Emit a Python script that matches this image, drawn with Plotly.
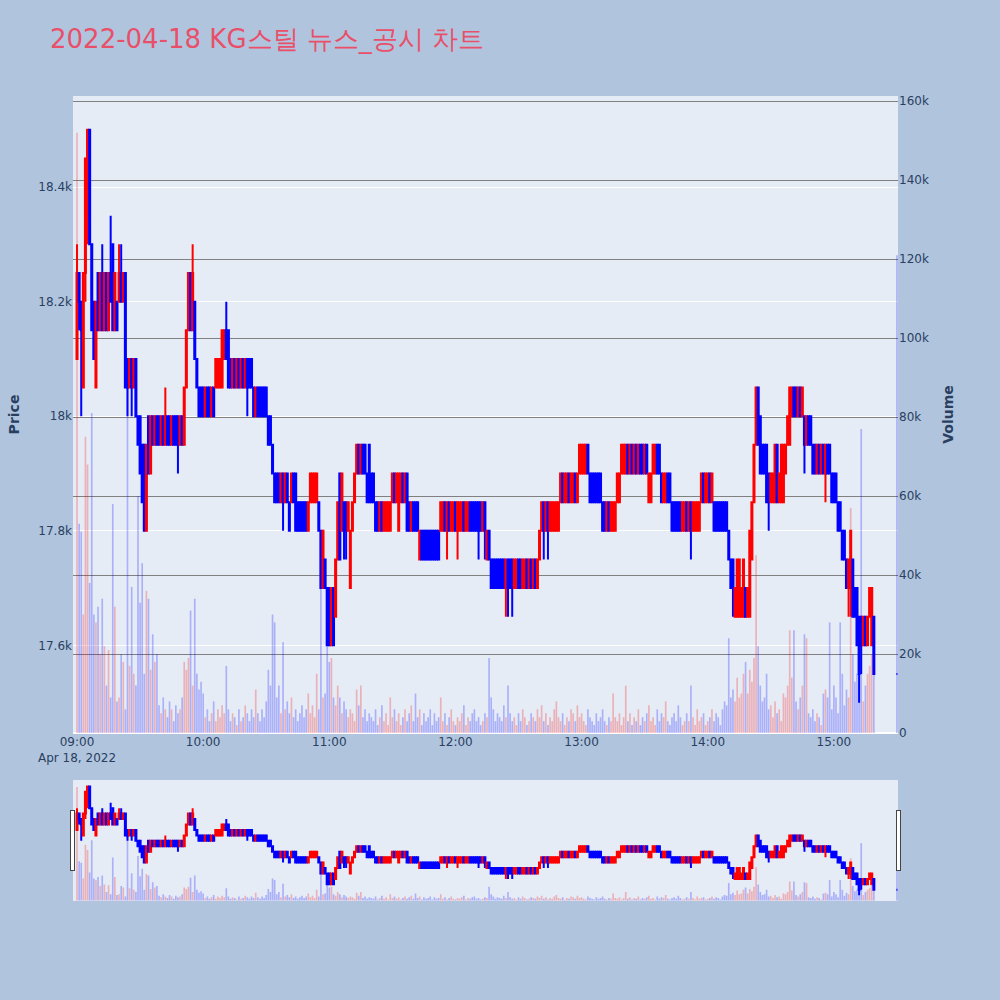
import pandas as pd
import plotly.graph_objects as go
from plotly.subplots import make_subplots

title_text = "2022-04-18 KG스틸 뉴스_공시 차트"

# minute timestamps: 09:00 ... 15:19 continuous trading, plus 15:30 closing auction
times = list(pd.date_range("2022-04-18 09:00", periods=380, freq="min")) + [pd.Timestamp("2022-04-18 15:30")]
x_range = ["2022-04-18 08:58:05", "2022-04-18 15:30:30"]

open_p = [
    18100, 18250, 18200, 18050, 18250, 18350, 18500, 18300, 18200, 18050,
    18250, 18150, 18250, 18150, 18250, 18150, 18250, 18300, 18150, 18200,
    18200, 18250, 18200, 18250, 18100, 18050, 18100, 18050, 18100, 18000,
    18000, 17950, 17950, 17800, 18000, 17900, 18000, 17950, 18000, 18000,
    17950, 18000, 17950, 18000, 18000, 17950, 18000, 18000, 18000, 17950,
    18000, 17950, 18050, 18150, 18250, 18150, 18200, 18100, 18050, 18050,
    18050, 18000, 18050, 18050, 18000, 18050, 18050, 18050, 18050, 18050,
    18100, 18150, 18150, 18100, 18050, 18100, 18050, 18100, 18050, 18100,
    18050, 18100, 18100, 18100, 18050, 18000, 18050, 18050, 18050, 18050,
    18050, 18000, 18000, 17950, 17900, 17900, 17900, 17850, 17900, 17850,
    17900, 17850, 17850, 17900, 17900, 17850, 17850, 17850, 17850, 17850,
    17800, 17850, 17850, 17850, 17850, 17850, 17800, 17700, 17750, 17700,
    17700, 17600, 17700, 17650, 17750, 17900, 17800, 17850, 17850, 17800,
    17700, 17800, 17850, 17900, 17950, 17900, 17950, 17950, 17900, 17950,
    17900, 17900, 17850, 17850, 17800, 17850, 17800, 17800, 17800, 17800,
    17850, 17900, 17850, 17800, 17850, 17900, 17850, 17900, 17850, 17800,
    17850, 17850, 17850, 17750, 17800, 17800, 17800, 17800, 17800, 17800,
    17800, 17800, 17800, 17800, 17800, 17850, 17800, 17850, 17800, 17800,
    17850, 17800, 17800, 17800, 17850, 17800, 17800, 17850, 17850, 17850,
    17850, 17850, 17850, 17800, 17850, 17750, 17800, 17750, 17750, 17750,
    17750, 17750, 17750, 17750, 17700, 17750, 17750, 17750, 17700, 17700,
    17750, 17750, 17700, 17700, 17750, 17700, 17750, 17700, 17750, 17700,
    17750, 17800, 17850, 17800, 17850, 17800, 17800, 17800, 17800, 17800,
    17850, 17900, 17850, 17850, 17900, 17850, 17850, 17900, 17850, 17900,
    17900, 17900, 17900, 17950, 17900, 17900, 17900, 17900, 17900, 17900,
    17850, 17850, 17800, 17850, 17800, 17800, 17800, 17850, 17850, 17900,
    17900, 17900, 17950, 17900, 17950, 17900, 17950, 17900, 17950, 17950,
    17900, 17950, 17850, 17850, 17900, 17900, 17950, 17950, 17900, 17850,
    17850, 17900, 17900, 17850, 17850, 17850, 17850, 17850, 17800, 17800,
    17850, 17800, 17850, 17800, 17800, 17800, 17800, 17850, 17900, 17850,
    17850, 17900, 17850, 17850, 17850, 17850, 17850, 17850, 17850, 17850,
    17800, 17750, 17750, 17650, 17650, 17650, 17650, 17650, 17700, 17650,
    17650, 17750, 17850, 17950, 18050, 18000, 17950, 17950, 17950, 17900,
    17850, 17850, 17850, 17950, 17850, 17850, 17850, 17900, 17950, 17950,
    18000, 18050, 18050, 18000, 18050, 18000, 18000, 17950, 18000, 18000,
    17950, 17950, 17900, 17950, 17900, 17950, 17900, 17950, 17950, 17900,
    17900, 17900, 17850, 17850, 17800, 17800, 17750, 17700, 17700, 17750,
    17700, 17700, 17650, 17650, 17600, 17650, 17600, 17650, 17600, 17650,
    17550,
]

high_p = [
    18300, 18250, 18200, 18250, 18450, 18500, 18500, 18300, 18200, 18200,
    18250, 18250, 18300, 18250, 18250, 18250, 18350, 18300, 18250, 18200,
    18300, 18300, 18250, 18250, 18100, 18100, 18100, 18100, 18100, 18000,
    18000, 17950, 17950, 17950, 18000, 18000, 18000, 18000, 18000, 18000,
    18000, 18000, 18050, 18000, 18000, 18000, 18000, 18000, 18000, 18000,
    18000, 18050, 18150, 18250, 18250, 18300, 18200, 18100, 18050, 18050,
    18050, 18050, 18050, 18050, 18050, 18050, 18100, 18100, 18100, 18150,
    18150, 18200, 18150, 18100, 18100, 18100, 18100, 18100, 18100, 18100,
    18100, 18100, 18100, 18100, 18050, 18050, 18050, 18050, 18050, 18050,
    18050, 18000, 18000, 17950, 17900, 17900, 17900, 17900, 17900, 17900,
    17900, 17850, 17900, 17900, 17900, 17850, 17850, 17850, 17850, 17850,
    17850, 17900, 17900, 17900, 17900, 17850, 17800, 17800, 17750, 17700,
    17700, 17700, 17700, 17750, 17850, 17900, 17900, 17850, 17850, 17850,
    17800, 17850, 17900, 17950, 17950, 17950, 17950, 17950, 17900, 17950,
    17900, 17900, 17850, 17850, 17850, 17850, 17850, 17850, 17850, 17850,
    17900, 17900, 17900, 17900, 17900, 17900, 17900, 17900, 17850, 17850,
    17850, 17850, 17850, 17800, 17800, 17800, 17800, 17800, 17800, 17800,
    17800, 17800, 17800, 17850, 17850, 17850, 17850, 17850, 17850, 17850,
    17850, 17850, 17850, 17850, 17850, 17850, 17850, 17850, 17850, 17850,
    17850, 17850, 17850, 17850, 17850, 17800, 17800, 17750, 17750, 17750,
    17750, 17750, 17750, 17750, 17750, 17750, 17750, 17750, 17750, 17750,
    17750, 17750, 17750, 17750, 17750, 17750, 17750, 17750, 17750, 17750,
    17800, 17850, 17850, 17850, 17850, 17850, 17850, 17850, 17850, 17850,
    17900, 17900, 17900, 17900, 17900, 17900, 17900, 17900, 17900, 17950,
    17950, 17950, 17950, 17950, 17900, 17900, 17900, 17900, 17900, 17900,
    17850, 17850, 17850, 17850, 17850, 17850, 17850, 17900, 17900, 17950,
    17950, 17950, 17950, 17950, 17950, 17950, 17950, 17950, 17950, 17950,
    17950, 17950, 17900, 17900, 17950, 17950, 17950, 17950, 17900, 17900,
    17900, 17900, 17900, 17850, 17850, 17850, 17850, 17850, 17850, 17850,
    17850, 17850, 17850, 17850, 17850, 17850, 17850, 17900, 17900, 17900,
    17900, 17900, 17900, 17850, 17850, 17850, 17850, 17850, 17850, 17850,
    17800, 17750, 17750, 17700, 17750, 17750, 17700, 17750, 17700, 17700,
    17800, 17850, 17950, 18050, 18050, 18000, 17950, 17950, 17950, 17900,
    17900, 17900, 17950, 17950, 17900, 17950, 17950, 17950, 18000, 18050,
    18050, 18050, 18050, 18050, 18050, 18050, 18000, 18000, 18000, 18000,
    17950, 17950, 17950, 17950, 17950, 17950, 17950, 17950, 17950, 17900,
    17900, 17900, 17850, 17850, 17800, 17800, 17750, 17750, 17800, 17750,
    17700, 17700, 17650, 17650, 17650, 17650, 17650, 17700, 17700, 17650,
    17550,
]

low_p = [
    18100, 18150, 18000, 18050, 18200, 18300, 18300, 18150, 18100, 18050,
    18150, 18150, 18150, 18150, 18150, 18150, 18200, 18150, 18150, 18150,
    18200, 18200, 18200, 18050, 18000, 18050, 18000, 18050, 18000, 17950,
    17900, 17850, 17800, 17800, 17900, 17900, 17950, 17950, 17950, 17950,
    17950, 17950, 17950, 17950, 17950, 17950, 17950, 17950, 17900, 17950,
    17950, 17950, 18050, 18150, 18150, 18150, 18100, 18050, 18000, 18000,
    18000, 18000, 18000, 18000, 18000, 18000, 18050, 18050, 18050, 18050,
    18100, 18100, 18050, 18050, 18050, 18050, 18050, 18050, 18050, 18050,
    18050, 18000, 18050, 18050, 18000, 18000, 18000, 18000, 18000, 18000,
    18000, 17950, 17950, 17900, 17850, 17850, 17850, 17850, 17800, 17850,
    17850, 17800, 17850, 17850, 17800, 17800, 17800, 17800, 17800, 17800,
    17800, 17850, 17850, 17850, 17850, 17800, 17700, 17700, 17700, 17600,
    17600, 17600, 17600, 17650, 17750, 17750, 17800, 17750, 17750, 17800,
    17700, 17800, 17850, 17900, 17900, 17900, 17900, 17900, 17850, 17850,
    17850, 17850, 17800, 17800, 17800, 17800, 17800, 17800, 17800, 17800,
    17850, 17850, 17850, 17800, 17850, 17850, 17850, 17800, 17800, 17800,
    17800, 17800, 17800, 17750, 17750, 17750, 17750, 17750, 17750, 17750,
    17750, 17750, 17750, 17800, 17800, 17800, 17750, 17800, 17800, 17800,
    17800, 17750, 17800, 17800, 17800, 17800, 17800, 17800, 17800, 17800,
    17800, 17750, 17800, 17800, 17750, 17750, 17750, 17700, 17700, 17700,
    17700, 17700, 17700, 17700, 17650, 17650, 17700, 17650, 17700, 17700,
    17700, 17700, 17700, 17700, 17700, 17700, 17700, 17700, 17700, 17700,
    17750, 17800, 17750, 17800, 17750, 17800, 17800, 17800, 17800, 17800,
    17850, 17850, 17850, 17850, 17850, 17850, 17850, 17850, 17850, 17900,
    17900, 17900, 17900, 17900, 17850, 17850, 17850, 17850, 17850, 17850,
    17800, 17800, 17800, 17800, 17800, 17800, 17800, 17850, 17850, 17900,
    17900, 17900, 17900, 17900, 17900, 17900, 17900, 17900, 17900, 17900,
    17900, 17900, 17850, 17850, 17900, 17900, 17900, 17900, 17850, 17850,
    17850, 17850, 17850, 17800, 17800, 17800, 17800, 17800, 17800, 17800,
    17800, 17800, 17750, 17800, 17800, 17800, 17800, 17850, 17850, 17850,
    17850, 17850, 17850, 17800, 17800, 17800, 17800, 17800, 17800, 17800,
    17750, 17700, 17650, 17650, 17650, 17650, 17650, 17650, 17650, 17650,
    17650, 17750, 17850, 17950, 17950, 17900, 17900, 17900, 17850, 17800,
    17850, 17850, 17850, 17850, 17850, 17850, 17850, 17900, 17950, 17950,
    18000, 18000, 18000, 18000, 18000, 18000, 17900, 17950, 17950, 17950,
    17900, 17900, 17900, 17900, 17900, 17900, 17850, 17900, 17900, 17850,
    17850, 17850, 17800, 17800, 17750, 17750, 17700, 17650, 17650, 17650,
    17650, 17600, 17500, 17550, 17600, 17600, 17600, 17650, 17600, 17550,
    17550,
]

close_p = [
    18250, 18200, 18150, 18250, 18450, 18500, 18300, 18150, 18100, 18200,
    18150, 18250, 18150, 18250, 18150, 18250, 18200, 18150, 18250, 18150,
    18250, 18200, 18250, 18050, 18050, 18100, 18050, 18100, 18000, 17950,
    17900, 17850, 17800, 17950, 17900, 18000, 17950, 18000, 17950, 17950,
    18000, 17950, 18000, 17950, 17950, 18000, 17950, 17950, 17950, 18000,
    17950, 18050, 18150, 18250, 18150, 18250, 18100, 18050, 18000, 18000,
    18000, 18050, 18000, 18000, 18050, 18000, 18100, 18100, 18100, 18150,
    18150, 18100, 18050, 18050, 18100, 18050, 18100, 18050, 18100, 18050,
    18100, 18050, 18050, 18050, 18000, 18050, 18000, 18000, 18000, 18000,
    18000, 17950, 17950, 17900, 17850, 17850, 17850, 17900, 17850, 17900,
    17850, 17800, 17900, 17850, 17800, 17800, 17800, 17800, 17800, 17800,
    17850, 17900, 17900, 17900, 17900, 17800, 17700, 17800, 17700, 17600,
    17600, 17700, 17600, 17750, 17850, 17750, 17900, 17800, 17800, 17850,
    17800, 17850, 17900, 17950, 17900, 17950, 17900, 17900, 17850, 17850,
    17850, 17850, 17800, 17800, 17850, 17800, 17850, 17850, 17850, 17850,
    17900, 17850, 17900, 17900, 17900, 17850, 17900, 17800, 17800, 17850,
    17800, 17800, 17800, 17800, 17750, 17750, 17750, 17750, 17750, 17750,
    17750, 17750, 17750, 17850, 17850, 17800, 17850, 17800, 17850, 17850,
    17800, 17850, 17850, 17850, 17800, 17850, 17850, 17800, 17800, 17800,
    17800, 17800, 17800, 17850, 17800, 17800, 17750, 17700, 17700, 17700,
    17700, 17700, 17700, 17700, 17750, 17700, 17700, 17700, 17750, 17750,
    17700, 17700, 17750, 17750, 17700, 17750, 17700, 17750, 17700, 17750,
    17800, 17850, 17800, 17850, 17800, 17850, 17850, 17850, 17850, 17850,
    17900, 17850, 17900, 17900, 17850, 17900, 17900, 17850, 17900, 17950,
    17950, 17950, 17950, 17900, 17850, 17850, 17850, 17850, 17850, 17850,
    17800, 17800, 17850, 17800, 17850, 17850, 17850, 17900, 17900, 17950,
    17950, 17950, 17900, 17950, 17900, 17950, 17900, 17950, 17900, 17900,
    17950, 17900, 17900, 17900, 17950, 17950, 17900, 17900, 17850, 17900,
    17900, 17850, 17850, 17800, 17800, 17800, 17800, 17800, 17850, 17850,
    17800, 17850, 17800, 17850, 17850, 17850, 17850, 17900, 17850, 17900,
    17900, 17850, 17900, 17800, 17800, 17800, 17800, 17800, 17800, 17800,
    17750, 17700, 17700, 17700, 17750, 17750, 17700, 17750, 17650, 17700,
    17800, 17850, 17950, 18050, 17950, 17900, 17900, 17900, 17850, 17850,
    17900, 17900, 17950, 17850, 17900, 17950, 17950, 17950, 18000, 18050,
    18050, 18000, 18000, 18050, 18000, 18050, 17950, 18000, 17950, 17950,
    17900, 17900, 17950, 17900, 17950, 17900, 17950, 17900, 17900, 17850,
    17850, 17850, 17800, 17800, 17750, 17750, 17700, 17750, 17800, 17650,
    17650, 17600, 17550, 17600, 17650, 17600, 17650, 17700, 17700, 17550,
    17550,
]

volume = [
    152000, 53000, 51000, 30000, 75000, 68000, 38000, 81000, 30000, 28000,
    32000, 20000, 34000, 22000, 12000, 21000, 9000, 58000, 32000, 8000,
    9000, 20000, 18000, 6000, 89000, 17000, 37000, 15000, 12000, 60000,
    33000, 43000, 15000, 36000, 34000, 16000, 25000, 18000, 20000, 7000,
    5000, 9000, 6000, 4000, 8000, 6000, 3000, 7000, 5000, 6000,
    9000, 18000, 16000, 19000, 31000, 12000, 34000, 15000, 11000, 13000,
    10000, 4000, 6000, 3000, 5000, 8000, 3000, 6000, 4000, 7000,
    5000, 17000, 6000, 3000, 5000, 4000, 2000, 6000, 3000, 4000,
    7000, 5000, 3000, 6000, 4000, 11000, 5000, 3000, 6000, 4000,
    8000, 16000, 12000, 30000, 28000, 9000, 12000, 5000, 23000, 6000,
    8000, 5000, 9000, 4000, 6000, 3000, 5000, 7000, 4000, 6000,
    10000, 5000, 7000, 4000, 15000, 6000, 37000, 9000, 10000, 22000,
    18000, 19000, 9000, 7000, 12000, 9000, 5000, 8000, 6000, 4000,
    6000, 5000, 3000, 11000, 7000, 12000, 4000, 6000, 3000, 5000,
    4000, 3000, 6000, 2000, 4000, 7000, 3000, 5000, 2000, 9000,
    4000, 6000, 3000, 5000, 2000, 4000, 6000, 3000, 5000, 7000,
    3000, 10000, 4000, 6000, 2000, 5000, 3000, 4000, 6000, 2000,
    5000, 3000, 4000, 9000, 3000, 5000, 2000, 4000, 6000, 3000,
    2000, 4000, 3000, 5000, 7000, 2000, 4000, 3000, 5000, 6000,
    3000, 4000, 2000, 3000, 5000, 4000, 19000, 9000, 6000, 3000,
    5000, 4000, 3000, 7000, 4000, 12000, 5000, 3000, 4000, 2000,
    5000, 3000, 6000, 4000, 2000, 3000, 5000, 4000, 3000, 6000,
    4000, 7000, 3000, 5000, 2000, 4000, 3000, 6000, 8000, 4000,
    3000, 5000, 2000, 4000, 3000, 6000, 5000, 3000, 7000, 4000,
    5000, 3000, 2000, 6000, 4000, 3000, 2000, 5000, 3000, 4000,
    6000, 3000, 2000, 4000, 3000, 10000, 4000, 3000, 5000, 2000,
    4000, 12000, 3000, 5000, 2000, 4000, 3000, 6000, 2000, 4000,
    3000, 5000, 7000, 3000, 4000, 2000, 6000, 3000, 5000, 4000,
    8000, 3000, 2000, 4000, 5000, 3000, 7000, 4000, 2000, 3000,
    5000, 3000, 12000, 4000, 2000, 6000, 3000, 4000, 5000, 2000,
    3000, 4000, 6000, 3000, 5000, 4000, 2000, 6000, 8000, 7000,
    24000, 9000, 11000, 8000, 14000, 9000, 10000, 15000, 18000, 10000,
    16000, 13000, 19000, 45000, 22000, 12000, 8000, 9000, 15000, 6000,
    7000, 4000, 8000, 5000, 6000, 3000, 10000, 9000, 12000, 26000,
    14000, 26000, 8000, 6000, 9000, 12000, 25000, 24000, 5000, 4000,
    6000, 3000, 5000, 4000, 2000, 10000, 11000, 9000, 28000, 6000,
    12000, 9000, 5000, 28000, 15000, 7000, 11000, 9000, 57000, 20000,
    13000, 15000, 9000, 77000, 8000, 12000, 15000, 17000, 20000, 21000,
    121000,
]

n = len(times)
assert len(open_p) == n and len(high_p) == n and len(low_p) == n and len(close_p) == n and len(volume) == n, \
    (n, len(open_p), len(high_p), len(low_p), len(close_p), len(volume))

vol_colors = ["rgba(255,0,0,0.25)" if c > o else "rgba(0,0,255,0.25)" for o, c in zip(open_p, close_p)]

fig = make_subplots(specs=[[{"secondary_y": True}]])
fig.add_trace(
    go.Candlestick(
        x=times, open=open_p, high=high_p, low=low_p, close=close_p,
        increasing=dict(line=dict(color="red"), fillcolor="red"),
        decreasing=dict(line=dict(color="blue"), fillcolor="blue"),
        name="Price",
    ),
    secondary_y=False,
)
fig.add_trace(
    go.Bar(x=times, y=volume, marker=dict(color=vol_colors, line=dict(width=0)), name="Volume"),
    secondary_y=True,
)

fig.update_layout(
    width=1000, height=1000,
    font=dict(family="Verdana, 'DejaVu Sans', sans-serif"),
    paper_bgcolor="lightsteelblue",
    plot_bgcolor="#E5ECF6",
    showlegend=False,
    title=dict(text=title_text, x=0.05, font=dict(size=26, color="#E8506A")),
    margin=dict(l=73, r=102, t=96, b=100),
)
fig.update_xaxes(domain=[0, 1], showgrid=False, range=x_range,
                 rangeslider=dict(visible=True, range=x_range))
fig.update_yaxes(title_text="<b>Price</b>", range=[17447, 18559], secondary_y=False)
fig.update_yaxes(title_text="<b>Volume</b>", range=[0, 161300], showgrid=True,
                 gridcolor="gray", secondary_y=True)

fig.write_html("out.html", config={"displayModeBar": False},
               post_script="document.body.style.margin='0';")
